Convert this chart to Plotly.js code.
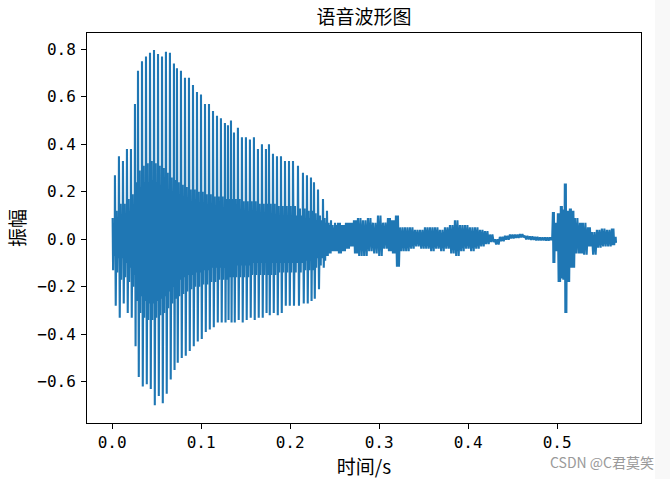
<!DOCTYPE html>
<html>
<head>
<meta charset="utf-8">
<script src="https://cdn.plot.ly/plotly-3.0.1.min.js"></script>
<style>html,body{margin:0;padding:0;background:#fff;}#chart{width:670px;height:479px;}</style>
</head>
<body>
<div id="chart"></div>
<script>
// ---- Data (time in seconds, amplitude) ----
// Voiced part: one entry per pitch pulse
const pulseT = [0.0005,0.0031,0.0076,0.0121,0.0166,0.0211,0.0256,0.0290,0.0335,0.0380,
  0.0425,0.0470,0.0515,0.0560,0.0604,0.0649,0.0694,0.0728,0.0773,0.0818,
  0.0863,0.0908,0.0953,0.0998,0.1043,0.1088,0.1133,0.1178,0.1222,0.1267,
  0.1301,0.1335,0.1369,0.1413,0.1458,0.1503,0.1548,0.1593,0.1638,0.1683,
  0.1728,0.1762,0.1807,0.1852,0.1897,0.1942,0.1987,0.2032,0.2088,0.2144,
  0.2189,0.2234,0.2268,0.2313,0.2369,0.2414,0.2459,0.2504];
const pulseHi = [0.09,0.27,0.35,0.33,0.38,0.38,0.57,0.71,0.75,0.77,
  0.785,0.797,0.78,0.77,0.79,0.785,0.74,0.72,0.71,0.68,
  0.68,0.65,0.62,0.61,0.57,0.57,0.54,0.52,0.51,0.49,
  0.48,0.50,0.45,0.47,0.43,0.43,0.42,0.43,0.38,0.40,
  0.38,0.40,0.36,0.35,0.35,0.33,0.33,0.33,0.31,0.28,
  0.27,0.26,0.24,0.21,0.17,0.12,0.08,0.07];
const pulseLo = [-0.13,-0.28,-0.33,-0.27,-0.31,-0.33,-0.45,-0.58,-0.62,-0.61,
  -0.63,-0.699,-0.66,-0.69,-0.65,-0.59,-0.55,-0.52,-0.50,-0.49,
  -0.47,-0.45,-0.43,-0.42,-0.39,-0.38,-0.37,-0.35,-0.35,-0.35,
  -0.34,-0.35,-0.35,-0.34,-0.35,-0.34,-0.33,-0.34,-0.33,-0.33,
  -0.31,-0.32,-0.31,-0.32,-0.31,-0.28,-0.28,-0.28,-0.28,-0.27,
  -0.27,-0.26,-0.25,-0.21,-0.12,-0.07,-0.05,-0.05];
// secondary strokes inside each pitch period
const midHi = [0.06,0.12,0.15,0.15,0.17,0.19,0.24,0.29,0.31,0.32,
  0.33,0.32,0.31,0.30,0.28,0.26,0.25,0.24,0.23,0.22,
  0.21,0.21,0.20,0.20,0.19,0.19,0.18,0.18,0.18,0.17,
  0.17,0.17,0.17,0.17,0.16,0.16,0.16,0.16,0.15,0.15,
  0.15,0.15,0.15,0.14,0.14,0.14,0.14,0.14,0.13,0.13,
  0.12,0.12,0.11,0.10,0.09,0.07,0.06,0.06];
const midLo = [-0.07,-0.14,-0.17,-0.16,-0.18,-0.2,-0.26,-0.31,-0.33,-0.34,
  -0.34,-0.33,-0.32,-0.31,-0.29,-0.27,-0.25,-0.24,-0.23,-0.22,
  -0.21,-0.20,-0.20,-0.19,-0.19,-0.18,-0.18,-0.17,-0.17,-0.17,
  -0.16,-0.16,-0.16,-0.16,-0.16,-0.16,-0.15,-0.15,-0.15,-0.15,
  -0.15,-0.15,-0.15,-0.14,-0.14,-0.14,-0.14,-0.14,-0.14,-0.13,
  -0.13,-0.13,-0.12,-0.11,-0.09,-0.06,-0.05,-0.05];
const innerHi = [0.05,0.08,0.09,0.10,0.12,0.14,0.18,0.22,0.24,0.24,
  0.25,0.24,0.23,0.22,0.20,0.18,0.17,0.16,0.15,0.15,
  0.14,0.14,0.13,0.13,0.12,0.12,0.12,0.12,0.12,0.11,
  0.11,0.11,0.11,0.11,0.11,0.11,0.10,0.10,0.10,0.10,
  0.10,0.10,0.10,0.10,0.10,0.10,0.10,0.10,0.10,0.09,
  0.09,0.09,0.08,0.08,0.07,0.06,0.05,0.05];
const innerLo = [-0.05,-0.08,-0.08,-0.10,-0.12,-0.15,-0.20,-0.24,-0.26,-0.27,
  -0.27,-0.26,-0.25,-0.24,-0.22,-0.20,-0.18,-0.17,-0.16,-0.15,
  -0.15,-0.14,-0.14,-0.13,-0.13,-0.12,-0.12,-0.12,-0.12,-0.11,
  -0.11,-0.11,-0.11,-0.11,-0.11,-0.11,-0.10,-0.10,-0.10,-0.10,
  -0.10,-0.10,-0.10,-0.10,-0.10,-0.10,-0.10,-0.10,-0.10,-0.09,
  -0.09,-0.09,-0.08,-0.08,-0.07,-0.06,-0.05,-0.05];
// Unvoiced / noise part: upper and lower envelope of the trace
const noiseT = [0.2537,0.2582,0.2627,0.2672,0.2717,0.2762,0.2818,0.2874,0.2930,0.2987,
  0.3043,0.3099,0.3144,0.3189,0.3234,0.3290,0.3346,0.3402,0.3459,0.3515,
  0.3571,0.3627,0.3683,0.3740,0.3796,0.3852,0.3908,0.3964,0.4020,0.4077,
  0.4133,0.4189,0.4245,0.4301,0.4357,0.4414,0.4470,0.4526,0.4582,0.4638,
  0.4694,0.4751,0.4807,0.4863,0.4919,0.4953,0.4975,0.5009,0.5042,0.5065,
  0.5087,0.5110,0.5144,0.5166,0.5200,0.5256,0.5290,0.5346,0.5391,0.5447,
  0.5503,0.5560,0.5616,0.5650];
const noiseHi = [0.07,0.06,0.07,0.07,0.08,0.09,0.08,0.09,0.07,0.10,
  0.07,0.09,0.08,0.10,0.05,0.05,0.05,0.04,0.04,0.05,
  0.05,0.05,0.04,0.05,0.06,0.08,0.06,0.06,0.05,0.05,
  0.04,0.035,0.02,0.0,0.01,0.015,0.02,0.02,0.022,0.015,
  0.012,0.01,0.008,0.008,0.008,0.115,0.07,0.11,0.14,0.125,
  0.235,0.12,0.13,0.12,0.09,0.07,0.07,0.05,0.03,0.04,
  0.045,0.04,0.045,0.01];
const noiseLo = [-0.06,-0.05,-0.04,-0.03,-0.06,-0.07,-0.07,-0.05,-0.06,-0.07,
  -0.04,-0.05,-0.06,-0.115,-0.05,-0.05,-0.04,-0.03,-0.04,-0.04,
  -0.05,-0.04,-0.05,-0.04,-0.06,-0.07,-0.05,-0.04,-0.05,-0.04,
  -0.03,-0.02,-0.012,-0.022,-0.008,-0.002,0.004,0.006,0.008,0.0,
  -0.002,-0.005,-0.005,-0.006,-0.004,-0.10,-0.05,-0.18,-0.165,-0.17,
  -0.31,-0.18,-0.12,-0.12,-0.06,-0.06,-0.065,-0.03,-0.065,-0.035,
  -0.03,-0.03,-0.025,-0.015];

const xTickVals = [0.0,0.1,0.2,0.3,0.4,0.5];
const xTickText = ['0.0','0.1','0.2','0.3','0.4','0.5'];
const yTickVals = [-0.6,-0.4,-0.2,0.0,0.2,0.4,0.6,0.8];
const yTickText = ['\u22120.6','\u22120.4','\u22120.2','0.0','0.2','0.4','0.6','0.8'];

// ---- Build the trace from the read envelopes ----
const tt = [], yy = [];
for (let i = 0; i < pulseT.length; i++) {
  const t0 = pulseT[i];
  const t1 = (i + 1 < pulseT.length) ? pulseT[i + 1] : noiseT[0];
  const dt = t1 - t0;
  tt.push(t0); yy.push(pulseHi[i]);
  tt.push(t0 + dt * 0.2); yy.push(pulseLo[i]);
  tt.push(t0 + dt * 0.4); yy.push(midHi[i]);
  tt.push(t0 + dt * 0.55); yy.push(midLo[i]);
  const k = 4;
  for (let j = 1; j <= k; j++) {
    tt.push(t0 + dt * 0.55 + dt * 0.45 * j / (k + 1));
    yy.push(j % 2 ? innerHi[i] : innerLo[i]);
  }
}
for (let i = 0; i < noiseT.length; i++) {
  const t0 = noiseT[i];
  const t1 = (i + 1 < noiseT.length) ? noiseT[i + 1] : t0 + 0.0016;
  const dt = t1 - t0;
  for (let j = 0; j < 4; j++) {
    tt.push(t0 + dt * j / 4);
    yy.push(j % 2 === 0 ? noiseHi[i] : noiseLo[i]);
  }
}

const tickFont = {family: 'DejaVu Sans Mono, Liberation Mono, monospace', size: 16, color: '#000'};
const cjk = 'Noto Sans CJK SC, sans-serif';

const data = [{
  x: tt, y: yy, type: 'scatter', mode: 'lines',
  line: {color: '#1f77b4', width: 2.1},
  hoverinfo: 'skip'
}];

const layout = {
  width: 670, height: 479,
  margin: {l: 87, r: 29, t: 33, b: 56, pad: 0},
  paper_bgcolor: '#fff', plot_bgcolor: '#fff',
  showlegend: false,
  title: {text: '语音波形图', font: {family: cjk, size: 19, color: '#000'},
    x: 0.5, xref: 'paper', xanchor: 'center', y: 1 - 17 / 479, yref: 'container', yanchor: 'middle'},
  xaxis: {
    range: [-0.0283, 0.5943], tickvals: xTickVals, ticktext: xTickText,
    showline: true, mirror: true, linecolor: '#000', linewidth: 1,
    ticks: 'outside', ticklen: 5, tickwidth: 1, tickcolor: '#000',
    showgrid: false, zeroline: false, tickfont: tickFont,
    title: {text: '时间/s', font: {family: cjk, size: 19, color: '#000'}, standoff: 4}
  },
  yaxis: {
    range: [-0.7735, 0.8686], tickvals: yTickVals, ticktext: yTickText,
    showline: true, mirror: true, linecolor: '#000', linewidth: 1,
    ticks: 'outside', ticklen: 5, tickwidth: 1, tickcolor: '#000',
    showgrid: false, zeroline: false, tickfont: tickFont, ticklabelstandoff: 2,
    title: {text: '振幅', font: {family: cjk, size: 19, color: '#000'}, standoff: 6}
  },
  shapes: [{type: 'rect', xref: 'paper', yref: 'paper', x0: 1.0253, x1: 1.06, y0: -0.2, y1: 1.2,
    fillcolor: '#f8f8f8', line: {width: 0}, layer: 'below'}],
  annotations: [{text: 'CSDN @C君莫笑', xref: 'paper', yref: 'paper', x: 1.027, y: -0.1,
    xanchor: 'right', yanchor: 'middle', showarrow: false,
    font: {family: cjk, size: 14, color: '#9a9a9a'}}]
};

Plotly.newPlot('chart', data, layout, {displayModeBar: false, staticPlot: true});
</script>
</body>
</html>
